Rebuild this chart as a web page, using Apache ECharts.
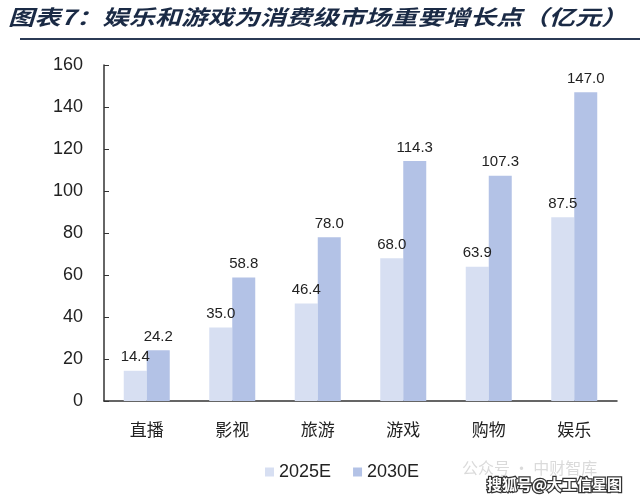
<!DOCTYPE html>
<html><head><meta charset="utf-8">
<script src="https://cdn.jsdelivr.net/npm/echarts@6/dist/echarts.min.js"></script>
<style>html,body{margin:0;padding:0;background:#fff}#c{width:640px;height:502px}</style>
</head><body><div id="c"></div>
<script>
const categories = ['直播','影视','旅游','游戏','购物','娱乐'];
const s2025 = [14.4, 35.0, 46.4, 68.0, 63.9, 87.5];
const s2030 = [24.2, 58.8, 78.0, 114.3, 107.3, 147.0];
const seriesNames = ['2025E','2030E'];
const titleText = '图表7：娱乐和游戏为消费级市场重要增长点（亿元）';

const chart = echarts.init(document.getElementById('c'));
const lbl = {show:true, position:'top', color:'#222', fontSize:15, fontFamily:'Arial, Liberation Sans', distance:6, formatter:p=>p.value.toFixed(1)};
chart.setOption({
  animation:false,
  graphic:[
    {type:'text', x:8, y:7, scaleX:1.25, style:{text:titleText, fill:'#1a2a45', font:'italic bold 21px "Noto Sans CJK SC"'}},
    {type:'line', shape:{x1:20,y1:39,x2:640,y2:39}, style:{stroke:'#2b3a55', lineWidth:2}},
    {type:'text', x:462, y:460, style:{text:'公众号 · 中财智库', fill:'rgba(150,150,150,0.35)', font:'16px "Noto Sans CJK SC"'}},
    {type:'text', x:487, y:477, style:{text:'搜狐号@大工信星图', fill:'#fff', stroke:'#333', lineWidth:2.5, font:'bold 15px "Noto Sans CJK SC"'}}
  ],
  legend:{bottom:16, left:260, itemWidth:9, itemHeight:9, itemGap:22, icon:'rect',
    textStyle:{fontSize:18, color:'#222', fontFamily:'Arial, Liberation Sans'}, data:seriesNames},
  grid:{left:104, right:23, top:65, bottom:101},
  xAxis:{type:'category', data:categories,
    axisLine:{lineStyle:{color:'#333', width:1.5}}, axisTick:{show:false},
    axisLabel:{fontSize:17, color:'#222', margin:20, fontFamily:'"Noto Sans CJK SC"'}},
  yAxis:{type:'value', min:0, max:160, interval:20,
    axisLine:{show:true, lineStyle:{color:'#333', width:1.5}},
    axisTick:{show:true, inside:true, length:5, lineStyle:{color:'#333'}},
    splitLine:{show:false},
    axisLabel:{fontSize:18, color:'#222', margin:21, fontFamily:'Arial, Liberation Sans'}},
  series:[
    {name:seriesNames[0], type:'bar', data:s2025, barWidth:23, barGap:'0%', itemStyle:{color:'#d7dff2'}, label:lbl},
    {name:seriesNames[1], type:'bar', data:s2030, barWidth:23, barGap:'0%', itemStyle:{color:'#b3c2e6'}, label:lbl}
  ]
});
</script></body></html>
